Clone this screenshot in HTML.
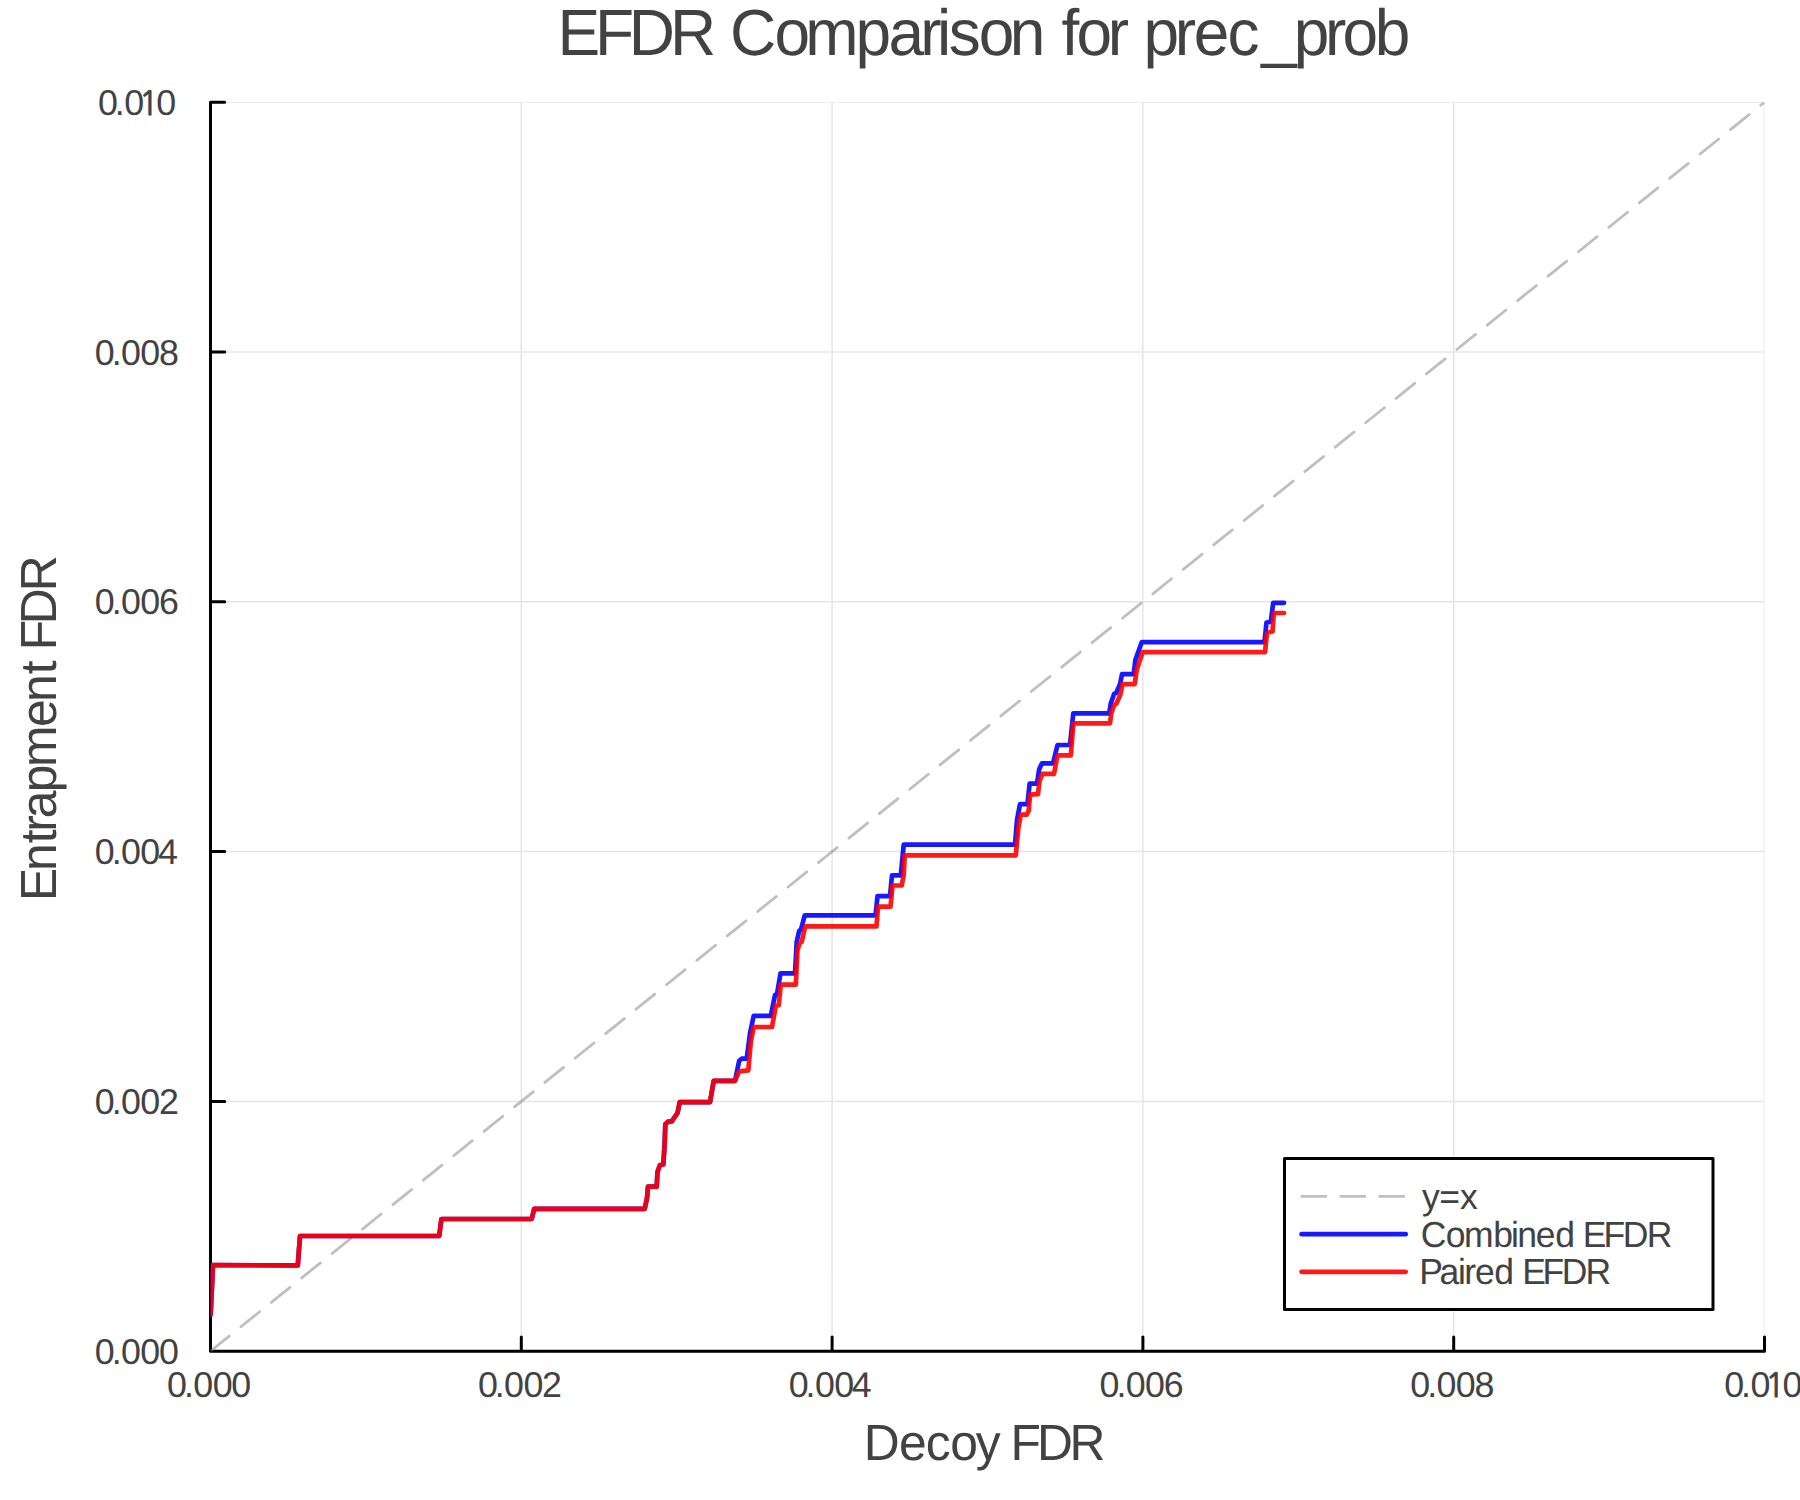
<!DOCTYPE html>
<html><head><meta charset="utf-8"><title>EFDR Comparison for prec_prob</title>
<style>
html,body{margin:0;padding:0;background:#fff;}
body{width:1800px;height:1500px;overflow:hidden;}
svg{display:block;}
text{font-family:"Liberation Sans",sans-serif;fill:#424242;white-space:pre;text-rendering:geometricPrecision;}
</style></head><body>
<svg width="1800" height="1500" viewBox="0 0 1800 1500">
<defs><clipPath id="pc"><rect x="210.50" y="102.20" width="1554.00" height="1249.00"/></clipPath></defs>
<rect width="1800" height="1500" fill="#fff"/>
<path d="M521.30 101.45V1351.20M210.50 1101.40H1765.25M832.10 101.45V1351.20M210.50 851.60H1765.25M1142.90 101.45V1351.20M210.50 601.80H1765.25M1453.70 101.45V1351.20M210.50 352.00H1765.25M1764.50 101.45V1351.20M210.50 102.20H1765.25" stroke="#000" stroke-opacity="0.1" stroke-width="1.5" fill="none" clip-path="url(#pc)"/>
<path d="M210.50 102.20V1351.20M210.50 1351.20H1764.50M210.50 1351.20v-14.20M210.50 1351.20h14.20M521.30 1351.20v-14.20M210.50 1101.40h14.20M832.10 1351.20v-14.20M210.50 851.60h14.20M1142.90 1351.20v-14.20M210.50 601.80h14.20M1453.70 1351.20v-14.20M210.50 352.00h14.20M1764.50 1351.20v-14.20M210.50 102.20h14.20" stroke="#000" stroke-width="3" stroke-linecap="round" fill="none"/>
<path d="M210.50 1351.20L1764.50 102.20" stroke="#808080" stroke-opacity="0.5" stroke-width="2.8" stroke-dasharray="24 15" stroke-linecap="round" fill="none" clip-path="url(#pc)"/>
<g fill="none" stroke-width="4.7" stroke-linecap="round" stroke-linejoin="round" clip-path="url(#pc)">
<path d="M210.6 1314.6L213.0 1265.2L297.8 1265.3L300.0 1236.0L439.2 1236.0L441.4 1219.0L531.7 1219.0L534.2 1208.8L644.7 1208.8L647.0 1198.3L648.0 1186.7L656.7 1186.7L657.5 1171.7L660.0 1165.0L663.3 1164.5L664.7 1143.3L665.3 1124.2L668.0 1121.7L671.7 1121.3L677.5 1113.0L679.7 1102.2L710.0 1102.2L713.7 1080.8L735.0 1080.8L739.2 1060.8L741.7 1058.7L746.7 1058.7L750.0 1033.3L753.7 1015.8L770.8 1015.8L775.0 995.0L777.0 994.2L780.5 973.3L795.0 973.3L796.7 941.7L799.2 930.8L801.0 929.7L804.7 915.4L875.5 915.4L877.5 896.2L890.0 896.2L892.0 875.3L900.8 875.3L903.7 844.7L1015.0 844.7L1017.0 820.0L1020.0 804.2L1027.5 804.2L1029.6 783.7L1037.0 783.7L1039.2 769.2L1042.0 763.3L1053.0 763.3L1057.5 745.0L1070.0 745.0L1073.3 713.3L1109.2 713.3L1110.8 703.3L1114.2 693.7L1116.2 693.0L1120.0 684.2L1122.0 674.2L1133.7 674.2L1135.3 660.0L1141.7 642.2L1264.5 642.2L1266.5 622.6L1270.8 621.7L1273.2 602.8L1284.0 602.8" stroke="rgb(0,0,255)" stroke-opacity="0.9"/>
<path d="M210.6 1314.6L213.0 1265.2L297.8 1265.3L300.0 1236.0L439.2 1236.0L441.4 1219.0L531.7 1219.0L534.2 1208.8L644.7 1208.8L647.0 1198.3L648.0 1186.7L656.7 1186.7L657.5 1171.7L660.0 1165.0L663.3 1164.5L664.7 1143.3L665.3 1124.2L668.0 1121.7L671.7 1121.3L677.5 1113.0L679.7 1102.2L710.0 1102.2L713.7 1080.8L735.0 1080.8L739.2 1071.3L748.3 1070.3L750.8 1041.7L753.7 1027.0L772.0 1027.0L775.8 1005.8L778.7 1005.3L780.8 984.7L795.8 984.7L797.5 950.0L799.7 943.0L801.7 942.0L805.3 926.3L876.5 926.3L878.0 906.7L890.5 906.7L892.5 885.5L901.7 885.5L903.7 875.0L904.7 855.3L1015.8 855.3L1018.3 828.3L1020.8 814.7L1026.7 814.7L1028.7 810.8L1030.0 794.7L1038.0 794.2L1039.5 780.8L1042.5 773.8L1054.0 773.8L1057.5 755.3L1070.8 755.3L1073.3 723.3L1110.0 723.3L1111.3 713.3L1114.2 705.0L1116.3 703.8L1120.3 694.7L1122.5 684.2L1134.7 684.2L1136.7 670.0L1142.5 652.2L1265.0 652.2L1267.0 632.7L1272.5 631.5L1273.8 613.0L1284.0 613.0" stroke="rgb(255,0,0)" stroke-opacity="0.9"/>
</g>
<rect x="1284.5" y="1158.5" width="428.5" height="151" fill="#fff" stroke="#000" stroke-width="3" stroke-linejoin="round"/>
<path d="M1301.8 1196.4H1405.5" stroke="#808080" stroke-opacity="0.5" stroke-width="2.8" stroke-dasharray="24 15" stroke-linecap="round"/>
<path d="M1301.6 1234.2H1405.7" stroke="rgb(0,0,255)" stroke-opacity="0.9" stroke-width="4.7" stroke-linecap="round"/>
<path d="M1301.6 1271.8H1405.7" stroke="rgb(255,0,0)" stroke-opacity="0.9" stroke-width="4.7" stroke-linecap="round"/>
<g>
<text x="557.61 595.06 628.65 670.10 689.30 730.03 774.40 805.23 855.38 888.39 920.15 936.91 948.77 978.80 1009.86 1029.06 1061.41 1076.60 1107.85 1127.05 1143.58 1174.85 1193.77 1227.58 1261.33 1293.68 1324.95 1342.60 1374.78" y="54.90" font-size="64.00" transform="matrix(1 0 0 1.020 0 -1.098)">EFDR Comparison for prec_prob</text>
<text x="863.77 899.00 925.85 950.35 975.84 990.78 1010.44 1036.97 1069.43" y="1459.60" font-size="49.80" transform="matrix(1 0 0 1.020 0 -29.192)">Decoy FDR</text>
<text x="-901.08 -870.88 -843.21 -831.73 -818.31 -792.21 -767.05 -727.00 -701.98 -674.31 -659.37 -650.26 -624.13 -591.32" y="0.00" font-size="49.80" transform="translate(55.7,0) rotate(-90) scale(1,1.020)">Entrapment FDR</text>
<text x="1422.12 1439.24 1459.92" y="1208.90" font-size="35.50" transform="matrix(1 0 0 1.020 0 -24.178)">y=x</text>
<text x="1420.76 1445.83 1464.11 1493.23 1510.97 1517.20 1535.86 1555.13 1565.78 1582.87 1603.51 1622.87 1646.65" y="1246.60" font-size="35.50" transform="matrix(1 0 0 1.020 0 -24.932)">Combined EFDR</text>
<text x="1419.14 1439.57 1457.97 1464.21 1475.06 1494.13 1504.78 1522.17 1542.41 1561.87 1585.45" y="1283.60" font-size="35.50" transform="matrix(1 0 0 1.020 0 -25.672)">Paired EFDR</text>
<text x="167.10 183.98 193.30 212.65 231.25" y="1396.90" font-size="35.80" transform="matrix(1 0 0 1.000 0 -0.000)">0.000</text>
<text x="94.80 111.68 121.00 140.35 158.95" y="1363.80" font-size="35.80" transform="matrix(1 0 0 1.000 0 -0.000)">0.000</text>
<text x="477.90 494.78 504.10 523.45 542.05" y="1396.90" font-size="35.80" transform="matrix(1 0 0 1.000 0 -0.000)">0.002</text>
<text x="94.80 111.68 121.00 140.35 158.95" y="1114.00" font-size="35.80" transform="matrix(1 0 0 1.000 0 -0.000)">0.002</text>
<text x="788.70 805.58 814.90 834.25 851.85" y="1396.90" font-size="35.80" transform="matrix(1 0 0 1.000 0 -0.000)">0.004</text>
<text x="94.80 111.68 121.00 140.35 157.95" y="864.20" font-size="35.80" transform="matrix(1 0 0 1.000 0 -0.000)">0.004</text>
<text x="1099.50 1116.38 1125.70 1145.05 1163.65" y="1396.90" font-size="35.80" transform="matrix(1 0 0 1.000 0 -0.000)">0.006</text>
<text x="94.80 111.68 121.00 140.35 158.95" y="614.40" font-size="35.80" transform="matrix(1 0 0 1.000 0 -0.000)">0.006</text>
<text x="1410.30 1427.18 1436.50 1455.85 1474.45" y="1396.90" font-size="35.80" transform="matrix(1 0 0 1.000 0 -0.000)">0.008</text>
<text x="94.80 111.68 121.00 140.35 158.95" y="364.60" font-size="35.80" transform="matrix(1 0 0 1.000 0 -0.000)">0.008</text>
<text x="1724.20 1741.03 1750.60 1764.97 1782.60" y="1396.90" font-size="35.80" transform="matrix(1 0 0 1.000 0 -0.000)">0.0<tspan font-family="NanumGothic, 'Liberation Sans', sans-serif" font-size="33.3" stroke="#424242" stroke-width="0.8">1</tspan>0</text>
<text x="97.90 114.73 124.30 138.67 156.30" y="114.80" font-size="35.80" transform="matrix(1 0 0 1.000 0 -0.000)">0.0<tspan font-family="NanumGothic, 'Liberation Sans', sans-serif" font-size="33.3" stroke="#424242" stroke-width="0.8">1</tspan>0</text>
</g>
</svg>
</body></html>
